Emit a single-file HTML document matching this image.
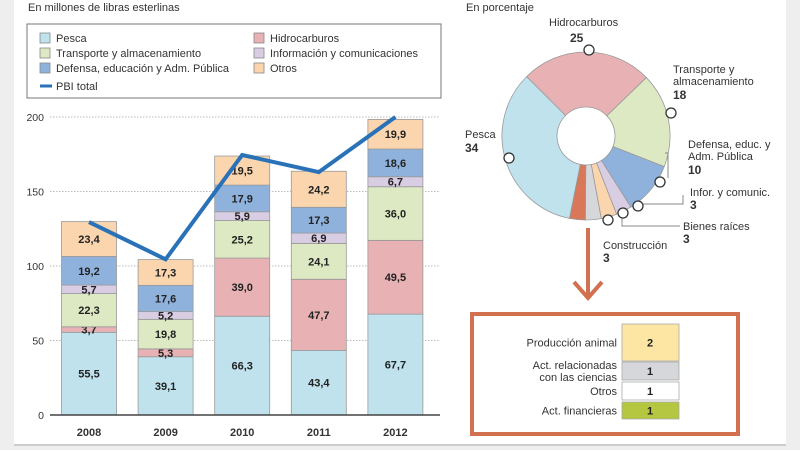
<!DOCTYPE html>
<html><head><meta charset="utf-8"><style>
body{margin:0;width:800px;height:450px;overflow:hidden;background:#eeeeee;font-family:"Liberation Sans",sans-serif}
#panel{position:absolute;left:14px;top:0;width:772px;height:445px;background:#fff}
svg{position:absolute;left:0;top:0}
text{font-family:"Liberation Sans",sans-serif}
</style></head><body>
<div id="panel"></div>
<svg id="s" width="800" height="450">
<text x="28" y="11" font-size="11" fill="#333">En millones de libras esterlinas</text>
<g>
<rect x="27" y="24" width="414" height="74" fill="#fff" stroke="#777" stroke-width="1"/>
</g>
<text x="466" y="11" font-size="11" fill="#333">En porcentaje</text>
</svg>
<script>
const categories=["2008","2009","2010","2011","2012"];
const seriesNames=["Pesca","Hidrocarburos","Transporte y almacenamiento","Información y comunicaciones","Defensa, educación y Adm. Pública","Otros"];
const pesca=[55.5,39.1,66.3,43.4,67.7];
const hidro=[3.7,5.3,39.0,47.7,49.5];
const transporte=[22.3,19.8,25.2,24.1,36.0];
const info=[5.7,5.2,5.9,6.9,6.7];
const defensa=[19.2,17.6,17.9,17.3,18.6];
const otros=[23.4,17.3,19.5,24.2,19.9];
const pbi=[129.5,104.5,174.5,163,200];
const yTicks=[0,50,100,150,200];
const pieNames=["Hidrocarburos","Transporte","Defensa","Infor","Bienes","Resto","Construccion","Pesca"];
const pieValues=[25,18,10,3,3,3,3,34];
const tableLabels=[["Producción animal"],["Act. relacionadas","con las ciencias"],["Otros"],["Act. financieras"]];
const tableValues=[2,1,1,1];

const NS="http://www.w3.org/2000/svg";
const svg=document.getElementById('s');
function mk(t,a,p){const e=document.createElementNS(NS,t);for(const k in a)e.setAttribute(k,a[k]);(p||svg).appendChild(e);return e;}
const colors=["#bfe2ec","#e8b2b5","#dde9c2","#d8cde2","#8fb2dd","#fbd5ae"];
const Y=v=>415-v*1.49;
const X=i=>89+i*76.6;
const bw=55;
const legPos=[[40,37],[254,37],[40,52],[254,52],[40,67],[254,67]];
[0,1,2,3,4,5].forEach((si,k)=>{
  const [lx,ly]=legPos[k];
  const g=mk('g',{});
  
  
  mk('rect',{x:lx,y:ly-4,width:10,height:10,fill:colors[si],stroke:'#888','stroke-width':0.8},g);
  const t=mk('text',{x:lx+16,y:ly+5,'font-size':11,fill:'#333'},g);t.textContent=seriesNames[si];
});
{const g=mk('g',{});
mk('line',{x1:40,y1:86,x2:52,y2:86,stroke:'#2a72b8','stroke-width':3},g);
const t=mk('text',{x:56,y:90,'font-size':11,fill:'#333'},g);t.textContent="PBI total";}
yTicks.forEach(v=>{
  if(v>0){const l=mk('line',{x1:50,y1:Y(v),x2:440,y2:Y(v),stroke:'#bbb','stroke-width':1,'stroke-dasharray':'1.5,1.5'});
  }
  const t=mk('text',{x:44,y:Y(v)+4,'font-size':10.5,fill:'#333','text-anchor':'end'});
  t.textContent=v;
});
const series=[pesca,hidro,transporte,info,defensa,otros];
categories.forEach((c,i)=>{
  let base=0;
  series.forEach((s,si)=>{
    const v=s[i];
    const r=mk('rect',{x:X(i)-bw/2,y:Y(base+v),width:bw,height:v*1.49,fill:colors[si],stroke:'#999','stroke-width':0.8});
    
    const t=mk('text',{x:X(i),y:Y(base+v/2)+4,'font-size':11,'font-weight':'bold',fill:'#222','text-anchor':'middle'});
    
    t.textContent=v.toFixed(1).replace('.',',');
    base+=v;
  });
  const t=mk('text',{x:X(i),y:436,'font-size':11,'font-weight':'bold',fill:'#333','text-anchor':'middle'});
  t.textContent=c;
});
{const a=mk('line',{x1:50,y1:415,x2:440,y2:415,stroke:'#444','stroke-width':1.5});}
{const p=mk('polyline',{points:pbi.map((v,i)=>X(i)+','+Y(v)).join(' '),fill:'none',stroke:'#2a72b8','stroke-width':4,'stroke-linejoin':'miter'});
}
// donut
const cx=586,cy=136,R=84,r0=29;
const pieColors=["#e8b2b5","#dde9c2","#8fb2dd","#d8cde2","#fbd5ae","#d5d7da","#d9775a","#bfe2ec"];
const tot=pieValues.reduce((a,b)=>a+b,0);
let ang=-45;
const pt=(a,rr)=>[cx+rr*Math.sin(a*Math.PI/180),cy-rr*Math.cos(a*Math.PI/180)];
pieValues.forEach((v,i)=>{
  const a1=ang,a2=ang+v/tot*360;ang=a2;
  const [x1,y1]=pt(a1,R),[x2,y2]=pt(a2,R),[x3,y3]=pt(a2,r0),[x4,y4]=pt(a1,r0);
  const lg=(a2-a1)>180?1:0;
  const p=mk('path',{d:`M${x1},${y1}A${R},${R} 0 ${lg} 1 ${x2},${y2}L${x3},${y3}A${r0},${r0} 0 ${lg} 0 ${x4},${y4}Z`,fill:pieColors[i],stroke:'#999','stroke-width':0.8});
  
});
[['M665,153 L668,153 L668,178'],['M640,204 L683,204 L683,195'],['M622,213 L622,226 L680,226']].forEach(d=>{
  const l=mk('path',{d:d[0],fill:'none',stroke:'#888','stroke-width':1});});
[[589,50],[671,113],[660,182],[638,206],[623,213],[608,220],[509,158]].forEach(([x,y])=>{
  const c=mk('circle',{cx:x,cy:y,r:5,fill:'#fff',stroke:'#333','stroke-width':1.3});});
const labels=[
 [549,26,'Hidrocarburos',11,'normal','start'],[570,42,'25',12,'bold','start'],
 [673,73,'Transporte y',11,'normal','start'],[673,85,'almacenamiento',11,'normal','start'],[673,99,'18',12,'bold','start'],
 [688,148,'Defensa, educ. y',11,'normal','start'],[688,160,'Adm. Pública',11,'normal','start'],[688,174,'10',12,'bold','start'],
 [690,196,'Infor. y comunic.',11,'normal','start'],[690,209,'3',12,'bold','start'],
 [683,230,'Bienes raíces',11,'normal','start'],[683,243,'3',12,'bold','start'],
 [603,249,'Construcción',11,'normal','start'],[603,262,'3',12,'bold','start'],
 [465,138,'Pesca',11,'normal','start'],[465,152,'34',12,'bold','start']];
labels.forEach(([x,y,s,fs,fw,an])=>{const t=mk('text',{x,y,'font-size':fs,'font-weight':fw,fill:'#333','text-anchor':an});
 t.textContent=s;});
{const g=mk('g',{});
mk('line',{x1:588,y1:228,x2:588,y2:296,stroke:'#d2714f','stroke-width':4},g);
mk('polyline',{points:'574,282 588,298 602,282',fill:'none',stroke:'#d2714f','stroke-width':4},g);}
{const b=mk('rect',{x:472,y:314,width:266,height:120,fill:'#fff',stroke:'#d2714f','stroke-width':4});}
const rows=[[324,37,'#fde6a4'],[362,18,'#d5d7da'],[382,18,'#fff'],[402,17,'#b5c640']];
rows.forEach(([y,h,c],i)=>{
  const r=mk('rect',{x:622,y,width:57,height:h,fill:c,stroke:'#aaa','stroke-width':0.8});
  const t=mk('text',{x:650,y:y+h/2+4,'font-size':11,'font-weight':'bold',fill:'#222','text-anchor':'middle'});
  t.textContent=tableValues[i];
  const L=tableLabels[i];
  L.forEach((s,j)=>{const tt=mk('text',{x:617,y:y+h/2+4+(j-(L.length-1)/2)*12,'font-size':11,fill:'#333','text-anchor':'end'});
    tt.textContent=s;});
});
{const l=mk('line',{x1:14,y1:445,x2:786,y2:445,stroke:'#ccc','stroke-width':2});}
</script>
</body></html>
